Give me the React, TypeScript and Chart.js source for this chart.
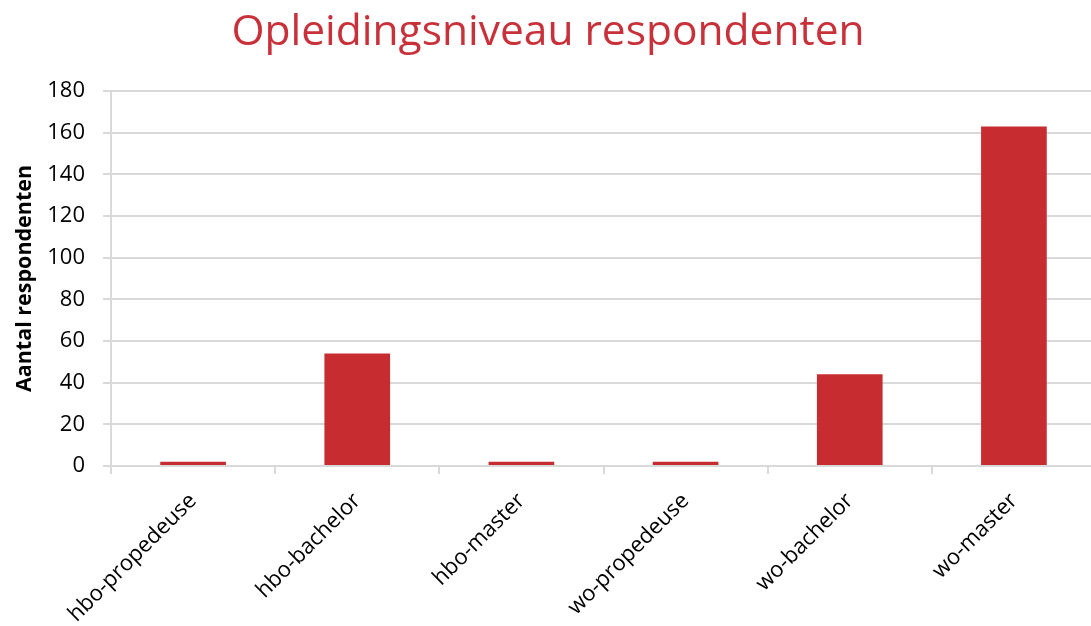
import React, { useEffect, useRef } from "react";
import { Chart, registerables } from "chart.js";

Chart.register(...registerables);

const categories = [
  "hbo-propedeuse",
  "hbo-bachelor",
  "hbo-master",
  "wo-propedeuse",
  "wo-bachelor",
  "wo-master",
];
const values = [2, 54, 2, 2, 44, 163];
const titleText = "Opleidingsniveau respondenten";
const yTitle = "Aantal respondenten";
const yMin = 0;
const yMax = 180;
const yStep = 20;

const RED = "#c72c31";
const GRID = "#d9d9d9";
const FONT = "'Open Sans', sans-serif";

export default function App() {
  const ref = useRef<HTMLCanvasElement | null>(null);
  useEffect(() => {
    document.body.style.margin = "0";
    const ctx = ref.current!.getContext("2d")!;
    const chart = new Chart(ctx, {
      type: "bar",
      data: {
        labels: categories,
        datasets: [
          {
            data: values,
            backgroundColor: RED,
            borderWidth: 0,
            barPercentage: 0.4,
            categoryPercentage: 1,
          },
        ],
      },
      options: {
        responsive: false,
        animation: false,
        layout: { padding: { left: 0, right: 0, top: 0, bottom: 0 } },
        plugins: {
          legend: { display: false },
          tooltip: { enabled: false },
          title: {
            display: true,
            text: titleText,
            color: "#c9313a",
            font: { family: FONT, size: 42.5, weight: "normal" },
            padding: { top: 7, bottom: 33 },
          },
        },
        scales: {
          x: {
            grid: {
              display: true,
              drawOnChartArea: false,
              drawTicks: true,
              tickLength: 8,
              color: GRID,
              lineWidth: 2,
              offset: true,
            },
            border: { display: true, color: GRID, width: 2 },
            ticks: {
              color: "#000",
              font: { family: FONT, size: 22 },
              maxRotation: 45,
              minRotation: 45,
              padding: 14,
            },
            afterFit: (scale: any) => {
              scale.height = 160;
            },
          },
          y: {
            min: yMin,
            max: yMax,
            grid: { color: GRID, lineWidth: 2, tickLength: 8 },
            border: { display: true, color: GRID, width: 2 },
            ticks: {
              stepSize: yStep,
              color: "#000",
              font: { family: FONT, size: 22 },
              padding: 18,
            },
            title: {
              display: true,
              text: yTitle,
              color: "#000",
              font: { family: FONT, size: 21.5, weight: "bold" },
              padding: { top: 12, bottom: 0 },
            },
            afterFit: (scale: any) => {
              scale.width = 111;
            },
          },
        },
      },
    });
    return () => chart.destroy();
  }, []);
  return (
    <div style={{ position: "absolute", left: 0, top: 0, width: 1091, height: 626, overflow: "hidden", background: "#fff" }}>
      <canvas ref={ref} width={1096} height={626} style={{ display: "block" }} />
    </div>
  );
}
